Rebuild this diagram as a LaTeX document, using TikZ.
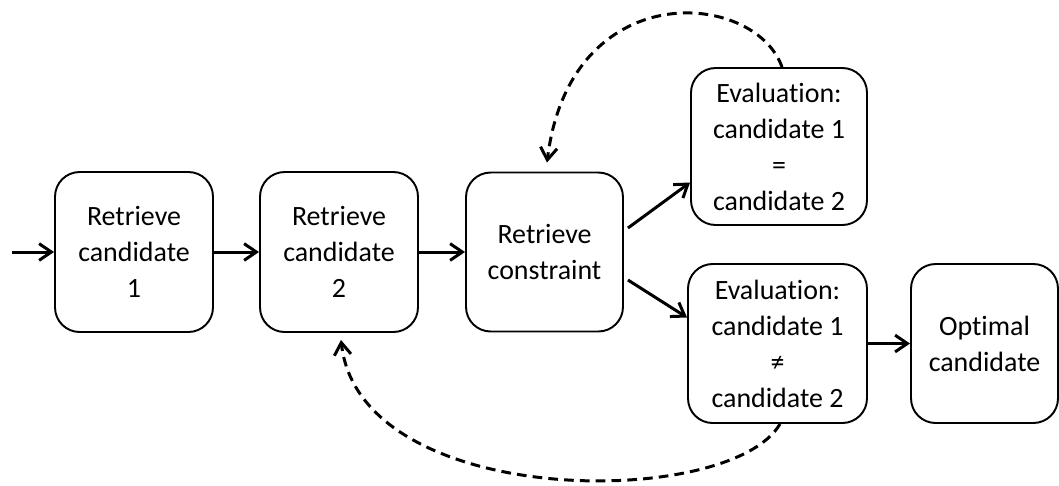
\documentclass[tikz,border=0pt]{standalone}
\usepackage{fontspec}
\setmainfont{Carlito}[Ligatures=NoCommon]
\usetikzlibrary{arrows.meta}

\begin{document}
\begin{tikzpicture}
  [x=0.02cm,y=-0.02cm,
   stage/.style={draw,rounded corners=14pt,line width=1.1pt,align=center,inner sep=0pt,
     font=\fontsize{15.9}{20.5}\selectfont},
   flow/.style={line width=1.7pt,-{Straight Barb[length=7pt,width=9.5pt]}},
   back/.style={flow,dash pattern=on 5.5pt off 3.5pt}]
  \useasboundingbox (0,0) rectangle (1059,485);
  \coordinate (in) at (12,252);
  \node[stage,minimum width=3.16cm,minimum height=3.2cm] (c1) at (134,252) {Retrieve\\candidate\\1};
  \node[stage,minimum width=3.16cm,minimum height=3.2cm] (c2) at (339,252) {Retrieve\\candidate\\2};
  \node[stage,minimum width=3.14cm,minimum height=3.18cm] (con) at (544.5,252) {Retrieve\\constraint};
  \node[stage,minimum width=3.52cm,minimum height=3.14cm] (eq) at (779,146.5) {Evaluation:\\candidate 1\\=\\candidate 2};
  \node[stage,minimum width=3.58cm,minimum height=3.18cm] (neq) at (777.5,343.5) {Evaluation:\\candidate 1\\≠\\candidate 2};
  \node[stage,minimum width=2.94cm,minimum height=3.18cm] (opt) at (984.5,343.5) {Optimal\\candidate};
  \foreach \from/\to in {in/c1,c1/c2,c2/con,neq/opt}
    \draw[flow] (\from) -- (\to);
  \draw[flow] ([shift={(4,-24)}]con.east) -- ([shift={(0,36)}]eq.west);
  \draw[flow] ([shift={(4,28)}]con.east) -- ([shift={(0,-26)}]neq.west);
  % loops back
  \draw[back] ([shift={(3,0)}]eq.north) .. controls (755,-10) and (570,-25) .. ([shift={(2.5,-9)}]con.north);
  \draw[back] ([shift={(2.5,0)}]neq.south) .. controls (730,510) and (360,510) .. ([shift={(2,7)}]c2.south);
\end{tikzpicture}
\end{document}
